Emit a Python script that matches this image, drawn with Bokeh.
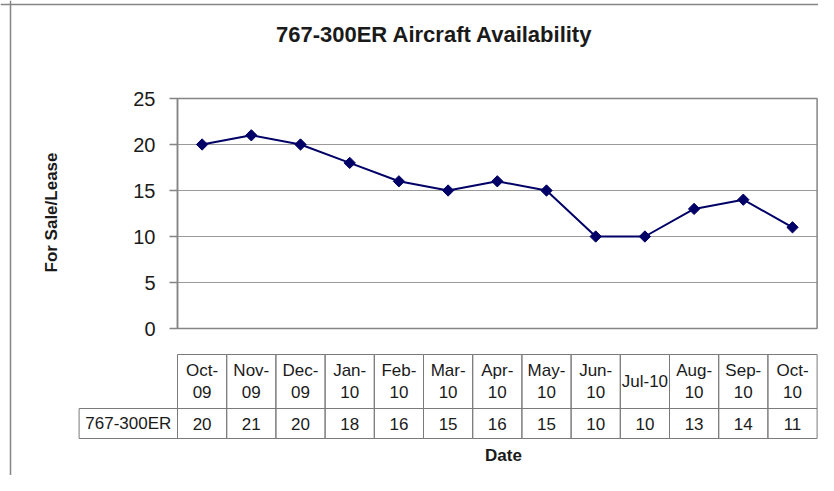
import math
from bokeh.plotting import figure
from bokeh.models import LinearAxis, FixedTicker, Range1d, Span
from bokeh.core.properties import value
from bokeh.embed import file_html
from bokeh.resources import INLINE

# ---- data ----
chart_title = "767-300ER Aircraft Availability"
series_name = "767-300ER"
months = ["Oct-\n09", "Nov-\n09", "Dec-\n09", "Jan-\n10", "Feb-\n10", "Mar-\n10",
          "Apr-\n10", "May-\n10", "Jun-\n10", "Jul-10", "Aug-\n10", "Sep-\n10", "Oct-\n10"]
for_sale = [20, 21, 20, 18, 16, 15, 16, 15, 10, 10, 13, 14, 11]
y_ticks = [0, 5, 10, 15, 20, 25]
y_label = "For Sale/Lease"
x_label = "Date"

# ---- layout (canvas pixels -> data coords) ----
W, H = 818, 475
PX_L = 177.0      # canvas x of category -0.5 (plot-area left)
CAT_W = 49.2      # px per category
PX_Y0 = 328.0     # canvas y of value 0
UNIT_H = 9.2      # px per unit


def dx(px):
    return -0.5 + (px - PX_L) / CAT_W


def dy(py):
    return (PX_Y0 - py) / UNIT_H


FONT = "Liberation Sans"
TXT = "#1a1a1a"
GRAY = "#858585"

n = len(months)
idx = list(range(n))
x_lo, x_hi = -0.5, n - 0.5

p = figure(width=W, height=H, output_backend="svg", toolbar_location=None,
           x_range=Range1d(dx(0), dx(W)), y_range=Range1d(dy(H), dy(0)),
           x_axis_location=None, y_axis_location=None, min_border=0,
           outline_line_color=None, background_fill_color="white",
           border_fill_color="white")
p.grid.visible = False

# outer chart border (left and top edges visible)
p.add_layout(Span(location=dx(10), dimension="height", line_color=GRAY, line_width=1.5))
p.add_layout(Span(location=dy(4), dimension="width", line_color=GRAY, line_width=1.5))

# title
p.text(x=[dx(434)], y=[dy(34)], text=[chart_title], text_align="center",
       text_baseline="middle", text_font=value(FONT), text_font_size="22px",
       text_font_style="bold", text_color=TXT)

# gridlines
grid_vals = [t for t in y_ticks if 0 < t < max(y_ticks)]
p.segment(x0=x_lo, x1=x_hi, y0=grid_vals, y1=grid_vals, line_color="#9a9a9a", line_width=1)

# plot area border
p.quad(left=[x_lo], right=[x_hi], bottom=[min(y_ticks)], top=[max(y_ticks)],
       fill_color=None, line_color=GRAY, line_width=1.5)

# y axis
yaxis = LinearAxis(fixed_location=x_lo, ticker=FixedTicker(ticks=y_ticks),
                   bounds=(min(y_ticks), max(y_ticks)))
yaxis.axis_line_color = GRAY
yaxis.axis_line_width = 1.5
yaxis.major_tick_line_color = GRAY
yaxis.major_tick_line_width = 1.5
yaxis.major_tick_out = 8
yaxis.major_tick_in = 0
yaxis.minor_tick_line_color = None
yaxis.major_label_standoff = 14
yaxis.major_label_text_font = FONT
yaxis.major_label_text_font_size = "20px"
yaxis.major_label_text_color = TXT
p.add_layout(yaxis, "left")

# y label
p.text(x=[dx(51)], y=[dy(212)], text=[y_label], angle=math.pi / 2, text_align="center",
       text_baseline="middle", text_font=value(FONT), text_font_size="17px",
       text_font_style="bold", text_color=TXT)

# series
LINE_C = "#000066"
p.line(x=idx, y=for_sale, line_color=LINE_C, line_width=2)
p.scatter(x=idx, y=for_sale, marker="square", angle=math.pi / 4, size=8,
          fill_color=LINE_C, line_color=LINE_C)

# data table
HDR_TOP, HDR_BOT, ROW_BOT = dy(354), dy(408), dy(438)
TBL = "#7a7a7a"
p.quad(left=[i - 0.5 for i in idx], right=[i + 0.5 for i in idx],
       top=HDR_TOP, bottom=HDR_BOT, fill_color=None, line_color=TBL, line_width=1)
p.quad(left=[-2.5] + [i - 0.5 for i in idx], right=[-0.5] + [i + 0.5 for i in idx],
       top=HDR_BOT, bottom=ROW_BOT, fill_color=None, line_color=TBL, line_width=1)
p.text(x=idx, y=dy(381), text=months, text_align="center", text_baseline="middle",
       text_font=value(FONT), text_font_size="17px", text_line_height=1.12, text_color=TXT)
p.text(x=idx, y=dy(423), text=[str(v) for v in for_sale], text_align="center",
       text_baseline="middle", text_font=value(FONT), text_font_size="17px", text_color=TXT)
p.text(x=[-1.5], y=[dy(423)], text=[series_name], text_align="center",
       text_baseline="middle", text_font=value(FONT), text_font_size="17px", text_color=TXT)

# x label
p.text(x=[dx(503)], y=[dy(455)], text=[x_label], text_align="center",
       text_baseline="middle", text_font=value(FONT), text_font_size="17px",
       text_font_style="bold", text_color=TXT)

open("out.html", "w").write(file_html(p, INLINE))
